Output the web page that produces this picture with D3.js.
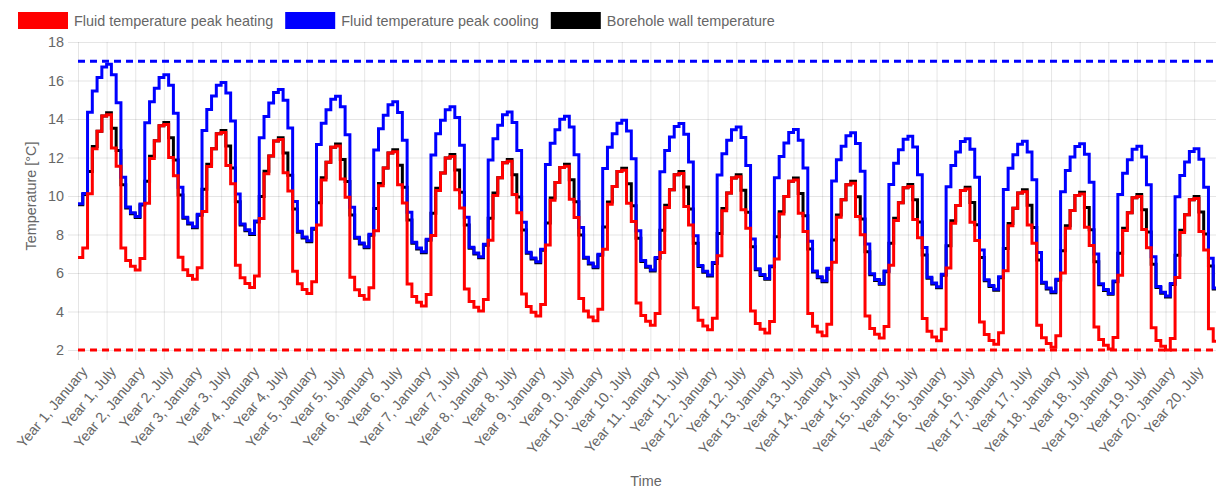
<!DOCTYPE html>
<html>
<head>
<meta charset="utf-8">
<script src="https://cdn.jsdelivr.net/npm/d3@7"></script>
<style>
  body { margin: 0; background: #fff; }
  svg { display: block; font-family: "Liberation Sans", Arial, Helvetica, sans-serif; }
</style>
</head>
<body>
<svg id="chart" width="1216" height="489"></svg>
<script>
// Categories
var years = [1, 2, 3, 4, 5, 6, 7, 8, 9, 10, 11, 12, 13, 14, 15, 16, 17, 18, 19, 20];
var months = ["January", "February", "March", "April", "May", "June",
              "July", "August", "September", "October", "November", "December"];

// Monthly values, one row per year (Jan..Dec)
var peakHeating = [
  6.80, 7.30, 10.12, 12.45, 13.37, 14.15, 14.22, 12.50, 11.55, 7.30, 6.65, 6.35,
  6.15, 6.75, 9.62, 11.95, 12.87, 13.65, 13.72, 12.00, 11.05, 6.82, 6.17, 5.87,
  5.67, 6.27, 9.20, 11.53, 12.45, 13.23, 13.30, 11.58, 10.63, 6.40, 5.75, 5.45,
  5.25, 5.85, 8.83, 11.16, 12.08, 12.86, 12.93, 11.21, 10.26, 6.09, 5.44, 5.14,
  4.94, 5.54, 8.50, 10.83, 11.75, 12.53, 12.60, 10.88, 9.93, 5.78, 5.13, 4.83,
  4.63, 5.23, 8.20, 10.53, 11.45, 12.23, 12.30, 10.58, 9.63, 5.43, 4.78, 4.48,
  4.28, 4.88, 7.95, 10.28, 11.20, 11.98, 12.05, 10.33, 9.38, 5.17, 4.52, 4.22,
  4.02, 4.62, 7.70, 10.03, 10.95, 11.73, 11.80, 10.08, 9.13, 4.91, 4.26, 3.96,
  3.76, 4.36, 7.45, 9.78, 10.70, 11.48, 11.55, 9.83, 8.88, 4.67, 4.02, 3.72,
  3.52, 4.12, 7.24, 9.57, 10.49, 11.27, 11.34, 9.62, 8.67, 4.44, 3.79, 3.49,
  3.29, 3.89, 7.07, 9.40, 10.32, 11.10, 11.17, 9.45, 8.50, 4.20, 3.55, 3.25,
  3.05, 3.65, 6.90, 9.23, 10.15, 10.93, 11.00, 9.28, 8.33, 4.03, 3.38, 3.08,
  2.88, 3.48, 6.73, 9.06, 9.98, 10.76, 10.83, 9.11, 8.16, 3.89, 3.24, 2.94,
  2.74, 3.34, 6.56, 8.89, 9.81, 10.59, 10.66, 8.94, 7.99, 3.77, 3.12, 2.82,
  2.62, 3.22, 6.40, 8.73, 9.65, 10.43, 10.50, 8.78, 7.83, 3.63, 2.98, 2.68,
  2.48, 3.08, 6.26, 8.59, 9.51, 10.29, 10.36, 8.64, 7.69, 3.45, 2.80, 2.50,
  2.30, 2.90, 6.12, 8.45, 9.37, 10.15, 10.22, 8.50, 7.55, 3.29, 2.64, 2.34,
  2.14, 2.74, 6.00, 8.33, 9.25, 10.03, 10.10, 8.38, 7.43, 3.20, 2.55, 2.25,
  2.05, 2.65, 5.88, 8.21, 9.13, 9.91, 9.98, 8.26, 7.31, 3.15, 2.50, 2.20,
  2.00, 2.60, 5.77, 8.10, 9.02, 9.80, 9.87, 8.15, 7.20, 3.10, 2.45, 2.15
];

var peakCooling = [
  9.60, 10.13, 14.35, 15.45, 16.15, 16.70, 16.85, 16.30, 14.85, 10.98, 9.43, 9.13,
  8.93, 9.58, 13.80, 14.90, 15.60, 16.15, 16.30, 15.75, 14.30, 10.45, 8.90, 8.60,
  8.40, 9.05, 13.40, 14.50, 15.20, 15.75, 15.90, 15.35, 13.90, 10.10, 8.55, 8.25,
  8.05, 8.70, 13.03, 14.13, 14.83, 15.38, 15.53, 14.98, 13.53, 9.72, 8.17, 7.87,
  7.67, 8.32, 12.68, 13.78, 14.48, 15.03, 15.18, 14.63, 13.18, 9.41, 7.86, 7.56,
  7.36, 8.01, 12.39, 13.49, 14.19, 14.74, 14.89, 14.34, 12.89, 9.15, 7.60, 7.30,
  7.10, 7.75, 12.13, 13.23, 13.93, 14.48, 14.63, 14.08, 12.63, 8.89, 7.34, 7.04,
  6.84, 7.49, 11.87, 12.97, 13.67, 14.22, 14.37, 13.82, 12.37, 8.63, 7.08, 6.78,
  6.58, 7.23, 11.64, 12.74, 13.44, 13.99, 14.14, 13.59, 12.14, 8.37, 6.82, 6.52,
  6.32, 6.97, 11.43, 12.53, 13.23, 13.78, 13.93, 13.38, 11.93, 8.20, 6.65, 6.35,
  6.15, 6.80, 11.26, 12.36, 13.06, 13.61, 13.76, 13.21, 11.76, 7.94, 6.39, 6.09,
  5.89, 6.54, 11.09, 12.19, 12.89, 13.44, 13.59, 13.04, 11.59, 7.77, 6.22, 5.92,
  5.72, 6.37, 10.95, 12.05, 12.75, 13.30, 13.45, 12.90, 11.45, 7.65, 6.10, 5.80,
  5.60, 6.25, 10.78, 11.88, 12.58, 13.13, 13.28, 12.73, 11.28, 7.51, 5.96, 5.66,
  5.46, 6.11, 10.60, 11.70, 12.40, 12.95, 13.10, 12.55, 11.10, 7.33, 5.78, 5.48,
  5.28, 5.93, 10.48, 11.58, 12.28, 12.83, 12.98, 12.43, 10.98, 7.20, 5.65, 5.35,
  5.15, 5.80, 10.34, 11.44, 12.14, 12.69, 12.84, 12.29, 10.84, 7.07, 5.52, 5.22,
  5.02, 5.67, 10.22, 11.32, 12.02, 12.57, 12.72, 12.17, 10.72, 6.99, 5.44, 5.14,
  4.94, 5.59, 10.08, 11.18, 11.88, 12.43, 12.58, 12.03, 10.58, 6.85, 5.30, 5.00,
  4.80, 5.45, 9.96, 11.06, 11.76, 12.31, 12.46, 11.91, 10.46, 6.77, 5.22, 4.92
];

var wallTemp = [
  9.55, 10.08, 11.27, 12.57, 13.37, 14.15, 14.32, 13.52, 12.37, 10.58, 9.38, 9.08,
  8.88, 9.53, 10.77, 12.07, 12.87, 13.65, 13.82, 13.02, 11.87, 10.05, 8.85, 8.55,
  8.35, 9.00, 10.35, 11.65, 12.45, 13.23, 13.40, 12.60, 11.45, 9.70, 8.50, 8.20,
  8.00, 8.65, 9.98, 11.28, 12.08, 12.86, 13.03, 12.23, 11.08, 9.32, 8.12, 7.82,
  7.62, 8.27, 9.65, 10.95, 11.75, 12.53, 12.70, 11.90, 10.75, 9.01, 7.81, 7.51,
  7.31, 7.96, 9.35, 10.65, 11.45, 12.23, 12.40, 11.60, 10.45, 8.75, 7.55, 7.25,
  7.05, 7.70, 9.10, 10.40, 11.20, 11.98, 12.15, 11.35, 10.20, 8.49, 7.29, 6.99,
  6.79, 7.44, 8.85, 10.15, 10.95, 11.73, 11.90, 11.10, 9.95, 8.23, 7.03, 6.73,
  6.53, 7.18, 8.60, 9.90, 10.70, 11.48, 11.65, 10.85, 9.70, 7.97, 6.77, 6.47,
  6.27, 6.92, 8.39, 9.69, 10.49, 11.27, 11.44, 10.64, 9.49, 7.80, 6.60, 6.30,
  6.10, 6.75, 8.22, 9.52, 10.32, 11.10, 11.27, 10.47, 9.32, 7.54, 6.34, 6.04,
  5.84, 6.49, 8.05, 9.35, 10.15, 10.93, 11.10, 10.30, 9.15, 7.37, 6.17, 5.87,
  5.67, 6.32, 7.88, 9.18, 9.98, 10.76, 10.93, 10.13, 8.98, 7.25, 6.05, 5.75,
  5.55, 6.20, 7.71, 9.01, 9.81, 10.59, 10.76, 9.96, 8.81, 7.11, 5.91, 5.61,
  5.41, 6.06, 7.55, 8.85, 9.65, 10.43, 10.60, 9.80, 8.65, 6.93, 5.73, 5.43,
  5.23, 5.88, 7.41, 8.71, 9.51, 10.29, 10.46, 9.66, 8.51, 6.80, 5.60, 5.30,
  5.10, 5.75, 7.27, 8.57, 9.37, 10.15, 10.32, 9.52, 8.37, 6.67, 5.47, 5.17,
  4.97, 5.62, 7.15, 8.45, 9.25, 10.03, 10.20, 9.40, 8.25, 6.59, 5.39, 5.09,
  4.89, 5.54, 7.03, 8.33, 9.13, 9.91, 10.08, 9.28, 8.13, 6.45, 5.25, 4.95,
  4.75, 5.40, 6.92, 8.22, 9.02, 9.80, 9.97, 9.17, 8.02, 6.37, 5.17, 4.87
];

// Limits (dashed)
var limitCooling = 17;
var limitHeating = 2;
var yTicks = [2, 4, 6, 8, 10, 12, 14, 16, 18];

var series = [
  { name: "Fluid temperature peak heating", color: "#ff0000", values: peakHeating },
  { name: "Fluid temperature peak cooling", color: "#0000ff", values: peakCooling },
  { name: "Borehole wall temperature", color: "#000000", values: wallTemp }
];

// Labels "Year N, Month"
var labels = [];
years.forEach(function(yr) {
  months.forEach(function(m) { labels.push("Year " + yr + ", " + m); });
});
var tickLabels = labels.filter(function(d, i) { return i % 6 == 0; });

var svg = d3.select("#chart");
var plotLeft = 78, plotRight = 1218, plotTop = 42, plotBottom = 350;
var textColor = "#666";

var x = d3.scalePoint().domain(labels).range([plotLeft, plotRight]);
var y = d3.scaleLinear().domain([2, 18]).range([plotBottom, plotTop]);

// Y axis + horizontal grid
var yAxis = svg.append("g")
  .attr("transform", "translate(" + (plotLeft - 10) + ",0)")
  .call(d3.axisLeft(y).tickValues(yTicks).tickSize(-(plotRight - plotLeft + 10)).tickPadding(4));
yAxis.select(".domain").remove();
yAxis.selectAll("line").attr("stroke", "rgba(0,0,0,0.1)");
yAxis.selectAll("text").attr("fill", textColor).style("font-size", "14.4px");

// X axis + vertical grid
var xAxis = svg.append("g")
  .attr("transform", "translate(0," + (plotBottom + 10) + ")")
  .call(d3.axisBottom(x).tickValues(tickLabels).tickSize(-(plotBottom + 10 - plotTop)).tickPadding(0));
xAxis.select(".domain").remove();
xAxis.selectAll("line").attr("stroke", "rgba(0,0,0,0.1)");
xAxis.selectAll("text")
  .attr("fill", textColor)
  .style("font-size", "14.4px")
  .attr("text-anchor", "end")
  .attr("x", -3)
  .attr("y", 10)
  .attr("dy", "0.35em")
  .attr("transform", "rotate(-50)");

// Dashed limit lines
var limitLine = d3.line()
  .x(function(d) { return x(d.label); })
  .y(function(d) { return y(d.value); });
[[limitCooling, "#0000ff"], [limitHeating, "#ff0000"]].forEach(function(l) {
  svg.append("path")
    .datum([{ label: labels[0], value: l[0] }, { label: labels[labels.length - 1], value: l[0] }])
    .attr("d", limitLine)
    .attr("fill", "none")
    .attr("stroke", l[1])
    .attr("stroke-width", 3)
    .attr("stroke-dasharray", "7,5");
});

// Stepped series, last dataset drawn first
var line = d3.line()
  .x(function(d, i) { return x(labels[i]); })
  .y(function(d) { return y(d); })
  .curve(d3.curveStepAfter);

series.slice().reverse().forEach(function(s) {
  svg.append("path")
    .datum(s.values)
    .attr("d", line)
    .attr("fill", "none")
    .attr("stroke", s.color)
    .attr("stroke-width", 3)
    .attr("stroke-linejoin", "miter");
});

// Legend
var lx = 18;
series.forEach(function(s) {
  svg.append("rect")
    .attr("x", lx).attr("y", 12)
    .attr("width", 50).attr("height", 17)
    .attr("fill", s.color);
  var t = svg.append("text")
    .attr("x", lx + 56).attr("y", 21)
    .attr("dy", "0.35em")
    .attr("fill", textColor)
    .style("font-size", "14.4px")
    .text(s.name);
  lx = lx + 56 + t.node().getComputedTextLength() + 12;
});

// Axis titles
svg.append("text")
  .attr("transform", "translate(31," + ((plotTop + plotBottom) / 2) + ") rotate(-90)")
  .attr("text-anchor", "middle")
  .attr("dy", "0.35em")
  .attr("fill", textColor)
  .style("font-size", "14.4px")
  .text("Temperature [°C]");

svg.append("text")
  .attr("x", (plotLeft + 1214) / 2)
  .attr("y", 481)
  .attr("text-anchor", "middle")
  .attr("dy", "0.35em")
  .attr("fill", textColor)
  .style("font-size", "14.4px")
  .text("Time");
</script>
</body>
</html>
